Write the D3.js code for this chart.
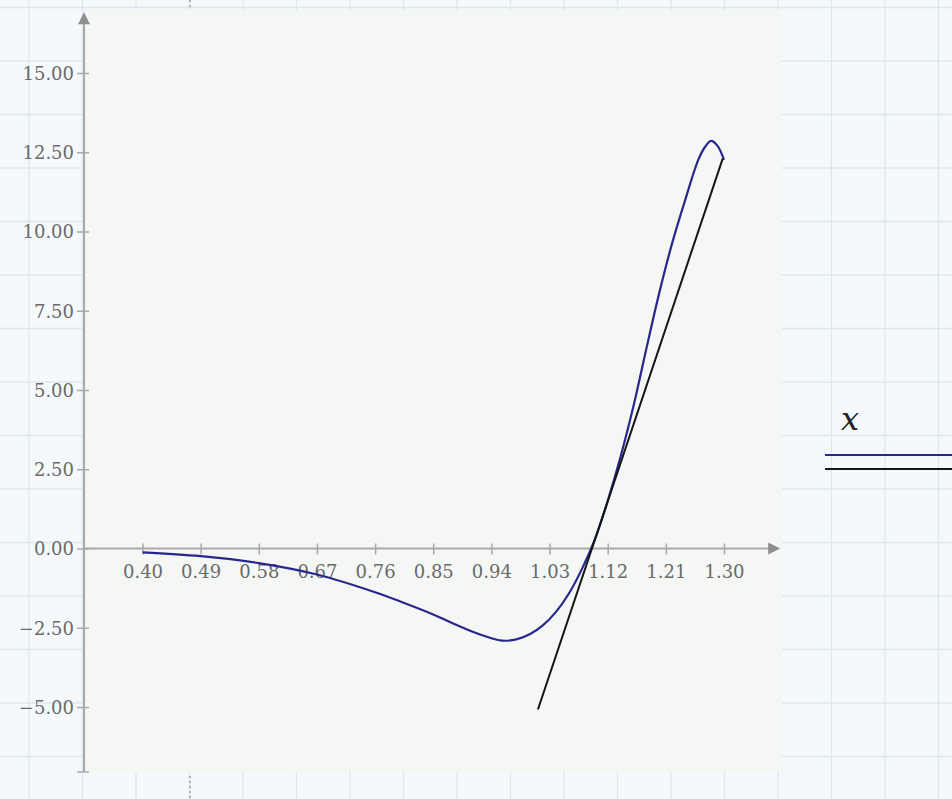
<!DOCTYPE html>
<html>
<head>
<meta charset="utf-8">
<script src="https://cdn.jsdelivr.net/npm/d3@7/dist/d3.min.js"></script>
<style>
  html, body { margin: 0; padding: 0; background: #f5f9fb; }
  svg { display: block; }
</style>
</head>
<body>
<svg id="chart" width="952" height="799"></svg>
<script>
// ---- data ----
const xTicks = [0.40, 0.49, 0.58, 0.67, 0.76, 0.85, 0.94, 1.03, 1.12, 1.21, 1.30];
const yTicks = [-5.0, -2.5, 0.0, 2.5, 5.0, 7.5, 10.0, 12.5, 15.0];
const curveX = [0.40, 0.49, 0.58, 0.67, 0.76, 0.80, 0.85, 0.88, 0.91, 0.94, 0.96, 0.98, 1.00, 1.02, 1.04, 1.06, 1.08, 1.10, 1.12, 1.14, 1.16, 1.18, 1.20, 1.22, 1.24, 1.26, 1.27, 1.28, 1.29, 1.30];
const curveY = [-0.12, -0.24, -0.46, -0.82, -1.38, -1.68, -2.08, -2.36, -2.62, -2.83, -2.91, -2.86, -2.70, -2.42, -2.00, -1.42, -0.65, 0.28, 1.50, 2.90, 4.50, 6.32, 8.08, 9.65, 11.00, 12.25, 12.65, 12.86, 12.70, 12.26];
const tangentX = [1.012, 1.298];
const tangentY = [-5.08, 12.30];
const legendLabel = "x";
const yAxisEnd = [-7.05, 16.92];
const xAxisEnd = [0.3095, 1.387];

// ---- layout ----
const svg = d3.select("#chart");
const W = 952, H = 799;
const x = d3.scaleLinear().domain([0.40, 1.30]).range([142.5, 724]);
const y = d3.scaleLinear().domain([-5, 15]).range([707, 73]);
const fmt = v => (v < 0 ? "\u2212" : "") + Math.abs(v).toFixed(2);

// background worksheet grid
const gridStep = 53.5;
const gGrid = svg.append("g");
gGrid.append("rect").attr("width", W).attr("height", H).attr("fill", "#f5f9fb");
for (let gx = 29; gx < W; gx += gridStep) {
  gGrid.append("line").attr("x1", gx).attr("x2", gx).attr("y1", 0).attr("y2", H)
    .attr("stroke", "#dbe7ee").attr("stroke-width", 1.3);
}
for (let gy = 7.5; gy < H; gy += gridStep) {
  gGrid.append("line").attr("x1", 0).attr("x2", W).attr("y1", gy).attr("y2", gy)
    .attr("stroke", "#dbe7ee").attr("stroke-width", 1.3);
}

// plot panel
const px0 = x(xAxisEnd[0]), px1 = 782, py0 = 10, py1 = y(yAxisEnd[0]);
svg.append("rect").attr("x", px0).attr("y", py0).attr("width", px1 - px0).attr("height", py1 - py0)
  .attr("fill", "#f4f7f4");

// region marker (dotted) at top and bottom
[[0, 9], [776, 799]].forEach(([a, b]) => {
  svg.append("line").attr("x1", 190).attr("x2", 190).attr("y1", a).attr("y2", b)
    .attr("stroke", "#9a9a9a").attr("stroke-width", 1.5).attr("stroke-dasharray", "2,3");
});

const axisColor = "#a9a9a9";
const textColor = "#6a6a6a";
const font = "DejaVu Serif, serif";

// y axis
const yAxis = svg.append("g").attr("transform", `translate(${px0},0)`)
  .call(d3.axisLeft(y).tickValues(yTicks).tickFormat(fmt).tickSize(0));
yAxis.select(".domain").remove();
yAxis.selectAll(".tick line").attr("x1", -7).attr("x2", 5).attr("stroke", axisColor).attr("stroke-width", 1.5);
yAxis.selectAll(".tick text").attr("x", -10).attr("dy", "0.36em")
  .attr("fill", textColor).style("font-family", font).style("font-size", "18px");
svg.append("line").attr("x1", px0).attr("x2", px0).attr("y1", y(yAxisEnd[1]) + 8).attr("y2", y(yAxisEnd[0]))
  .attr("stroke", axisColor).attr("stroke-width", 2);
svg.append("line").attr("x1", px0 - 7).attr("x2", px0 + 5).attr("y1", y(yAxisEnd[0])).attr("y2", y(yAxisEnd[0]))
  .attr("stroke", axisColor).attr("stroke-width", 1.5);
const yt = y(yAxisEnd[1]);
svg.append("path").attr("d", `M${px0},${yt} L${px0 - 6},${yt + 12} L${px0 + 6},${yt + 12} Z`).attr("fill", "#8e8e8e");

// x axis
const y0 = y(0);
const xAxis = svg.append("g").attr("transform", `translate(0,${y0})`)
  .call(d3.axisBottom(x).tickValues(xTicks).tickFormat(d3.format(".2f")).tickSize(0));
xAxis.select(".domain").remove();
xAxis.selectAll(".tick line").attr("y1", -5).attr("y2", 6).attr("stroke", axisColor).attr("stroke-width", 1.5);
xAxis.selectAll(".tick text").attr("y", 29).attr("dy", null)
  .attr("fill", textColor).style("font-family", font).style("font-size", "18px");
const xr = x(xAxisEnd[1]);
svg.append("line").attr("x1", px0).attr("x2", xr - 10).attr("y1", y0).attr("y2", y0)
  .attr("stroke", axisColor).attr("stroke-width", 2);
svg.append("path").attr("d", `M${xr},${y0} L${xr - 12},${y0 - 6} L${xr - 12},${y0 + 6} Z`).attr("fill", "#8e8e8e");

// series
const curveData = curveX.map((v, i) => [v, curveY[i]]);
const line = d3.line().x(d => x(d[0])).y(d => y(d[1])).curve(d3.curveCatmullRom.alpha(0.5));
svg.append("path").datum(curveData).attr("d", line)
  .attr("fill", "none").attr("stroke", "#27278f").attr("stroke-width", 2.2);
const tanData = tangentX.map((v, i) => [v, tangentY[i]]);
svg.append("path").datum(tanData).attr("d", d3.line().x(d => x(d[0])).y(d => y(d[1])))
  .attr("fill", "none").attr("stroke", "#151515").attr("stroke-width", 2);

// legend
svg.append("text").attr("x", 841).attr("y", 430).text(legendLabel)
  .style("font-family", "DejaVu Serif, serif").style("font-style", "italic").style("font-size", "32px")
  .attr("fill", "#222");
svg.append("line").attr("x1", 825).attr("x2", W).attr("y1", 455).attr("y2", 455)
  .attr("stroke", "#27278f").attr("stroke-width", 2);
svg.append("line").attr("x1", 825).attr("x2", W).attr("y1", 469).attr("y2", 469)
  .attr("stroke", "#151515").attr("stroke-width", 2);
</script>
</body>
</html>
